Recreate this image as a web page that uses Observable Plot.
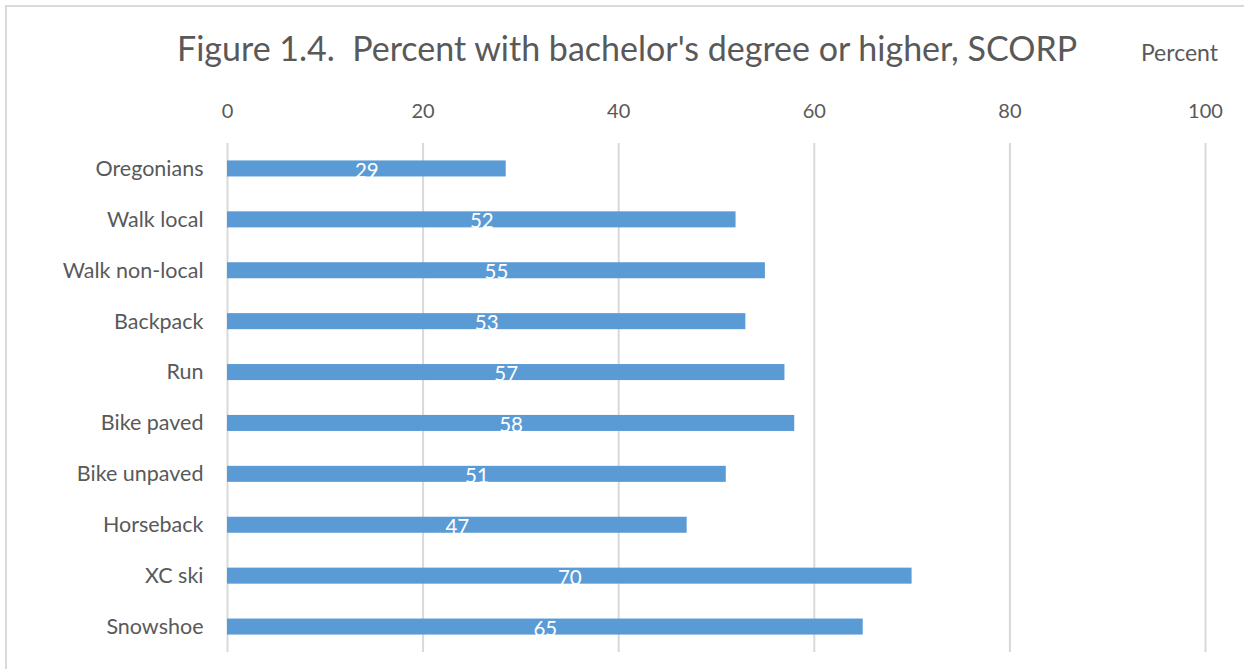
<!DOCTYPE html>
<html>
<head>
<meta charset="utf-8">
<script src="https://cdn.jsdelivr.net/npm/d3@7"></script>
<script src="https://cdn.jsdelivr.net/npm/@observablehq/plot@0.6"></script>
<style>
  html, body { margin: 0; padding: 0; background: #fff; }
  #wrap { position: relative; width: 1244px; height: 669px; overflow: hidden; font-family: Lato, "Open Sans", sans-serif; }
  #frame { position: absolute; left: 5px; top: 5px; width: 1300px; height: 700px; border-left: 2px solid #d9d9d9; border-top: 2px solid #d9d9d9; box-sizing: border-box; pointer-events: none; }
  #title { position: absolute; left: 177px; top: 27px; font-size: 34px; color: #595959; white-space: nowrap; }
  #unit { position: absolute; right: 26px; top: 38px; font-size: 23px; color: #595959; white-space: nowrap; }
  #chart { position: absolute; left: 0; top: 0; }
  g[aria-label="x-axis tick label"] { font-size: 20px; fill: #595959; }
  g[aria-label="y-axis tick label"] { font-size: 21.5px; fill: #595959; }
</style>
</head>
<body>
<div id="wrap">
  <div id="frame"></div>
  <div id="chart"></div>
  <div id="title">Figure 1.4.&nbsp; Percent with bachelor's degree or higher, SCORP</div>
  <div id="unit">Percent</div>
</div>
<script>
const categories = ["Oregonians", "Walk local", "Walk non-local", "Backpack", "Run", "Bike paved", "Bike unpaved", "Horseback", "XC ski", "Snowshoe"];
const values = [28.5, 52, 55, 53, 57, 58, 51, 47, 70, 65];
const labels = ["29", "52", "55", "53", "57", "58", "51", "47", "70", "65"];
const xTicks = [0, 20, 40, 60, 80, 100];

const data = categories.map((c, i) => ({category: c, value: values[i], label: labels[i]}));

const chart = Plot.plot({
  width: 1244,
  height: 669,
  marginLeft: 227,
  marginRight: 39,
  marginTop: 143,
  marginBottom: 17,
  style: {fontFamily: "Lato, 'Open Sans', sans-serif", background: "transparent", color: "#595959"},
  x: {domain: [0, 100], ticks: xTicks, axis: "top", tickSize: 0, tickPadding: 26, label: null, tickFormat: d3.format("d")},
  y: {domain: categories, paddingInner: 0.685, paddingOuter: 0.3425, round: false, tickSize: 0, tickPadding: 24, label: null},
  marks: [
    Plot.gridX(xTicks, {stroke: "#d9d9d9", strokeOpacity: 1, strokeWidth: 2}),
    Plot.barX(data, {x: "value", y: "category", fill: "#5B9BD5"}),
    Plot.text(data, {x: d => d.value / 2, y: "category", text: "label", fill: "white", fontSize: 20.5, dy: 2})
  ]
});

document.getElementById("chart").appendChild(chart);
</script>
</body>
</html>
